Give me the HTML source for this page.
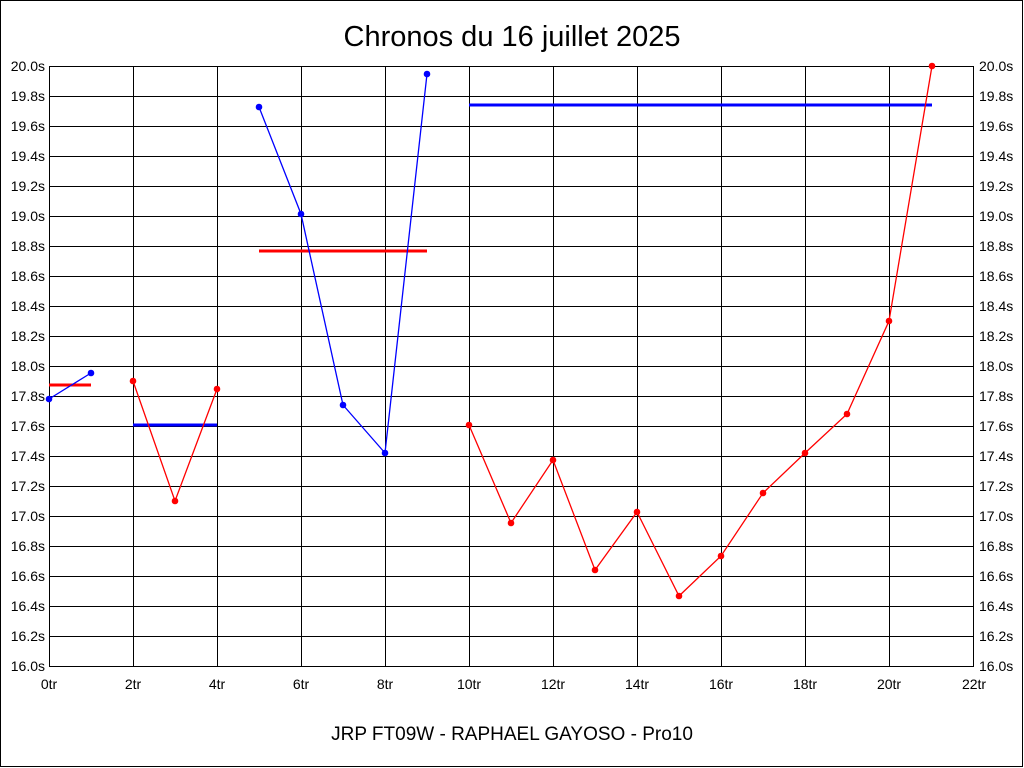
<!DOCTYPE html>
<html><head><meta charset="utf-8"><style>
html,body{margin:0;padding:0;background:#fff}
svg{display:block}
text{font-family:"Liberation Sans",Arial,sans-serif}
</style></head><body>
<svg width="1024" height="768" xmlns="http://www.w3.org/2000/svg">
<rect x="0.5" y="0.5" width="1022" height="766" fill="#fff" stroke="#000"/>
<text x="512" y="46" font-size="29" text-anchor="middle">Chronos du 16 juillet 2025</text>
<text x="512" y="740" font-size="19" text-anchor="middle">JRP FT09W - RAPHAEL GAYOSO - Pro10</text>
<g stroke="#000" stroke-width="1">
<line x1="49" y1="66.5" x2="974" y2="66.5"/><line x1="49" y1="96.5" x2="974" y2="96.5"/><line x1="49" y1="126.5" x2="974" y2="126.5"/><line x1="49" y1="156.5" x2="974" y2="156.5"/><line x1="49" y1="186.5" x2="974" y2="186.5"/><line x1="49" y1="216.5" x2="974" y2="216.5"/><line x1="49" y1="246.5" x2="974" y2="246.5"/><line x1="49" y1="276.5" x2="974" y2="276.5"/><line x1="49" y1="306.5" x2="974" y2="306.5"/><line x1="49" y1="336.5" x2="974" y2="336.5"/><line x1="49" y1="366.5" x2="974" y2="366.5"/><line x1="49" y1="396.5" x2="974" y2="396.5"/><line x1="49" y1="426.5" x2="974" y2="426.5"/><line x1="49" y1="456.5" x2="974" y2="456.5"/><line x1="49" y1="486.5" x2="974" y2="486.5"/><line x1="49" y1="516.5" x2="974" y2="516.5"/><line x1="49" y1="546.5" x2="974" y2="546.5"/><line x1="49" y1="576.5" x2="974" y2="576.5"/><line x1="49" y1="606.5" x2="974" y2="606.5"/><line x1="49" y1="636.5" x2="974" y2="636.5"/><line x1="49" y1="666.5" x2="974" y2="666.5"/>
<line x1="49.5" y1="66" x2="49.5" y2="667"/><line x1="133.5" y1="66" x2="133.5" y2="667"/><line x1="217.5" y1="66" x2="217.5" y2="667"/><line x1="301.5" y1="66" x2="301.5" y2="667"/><line x1="385.5" y1="66" x2="385.5" y2="667"/><line x1="469.5" y1="66" x2="469.5" y2="667"/><line x1="553.5" y1="66" x2="553.5" y2="667"/><line x1="637.5" y1="66" x2="637.5" y2="667"/><line x1="721.5" y1="66" x2="721.5" y2="667"/><line x1="805.5" y1="66" x2="805.5" y2="667"/><line x1="889.5" y1="66" x2="889.5" y2="667"/><line x1="973.5" y1="66" x2="973.5" y2="667"/>
</g>
<g font-size="14" text-anchor="end">
<text x="45" y="71">20.0s</text><text x="45" y="101">19.8s</text><text x="45" y="131">19.6s</text><text x="45" y="161">19.4s</text><text x="45" y="191">19.2s</text><text x="45" y="221">19.0s</text><text x="45" y="251">18.8s</text><text x="45" y="281">18.6s</text><text x="45" y="311">18.4s</text><text x="45" y="341">18.2s</text><text x="45" y="371">18.0s</text><text x="45" y="401">17.8s</text><text x="45" y="431">17.6s</text><text x="45" y="461">17.4s</text><text x="45" y="491">17.2s</text><text x="45" y="521">17.0s</text><text x="45" y="551">16.8s</text><text x="45" y="581">16.6s</text><text x="45" y="611">16.4s</text><text x="45" y="641">16.2s</text><text x="45" y="671">16.0s</text>
</g>
<g font-size="14" text-anchor="start">
<text x="979" y="71">20.0s</text><text x="979" y="101">19.8s</text><text x="979" y="131">19.6s</text><text x="979" y="161">19.4s</text><text x="979" y="191">19.2s</text><text x="979" y="221">19.0s</text><text x="979" y="251">18.8s</text><text x="979" y="281">18.6s</text><text x="979" y="311">18.4s</text><text x="979" y="341">18.2s</text><text x="979" y="371">18.0s</text><text x="979" y="401">17.8s</text><text x="979" y="431">17.6s</text><text x="979" y="461">17.4s</text><text x="979" y="491">17.2s</text><text x="979" y="521">17.0s</text><text x="979" y="551">16.8s</text><text x="979" y="581">16.6s</text><text x="979" y="611">16.4s</text><text x="979" y="641">16.2s</text><text x="979" y="671">16.0s</text>
</g>
<g font-size="14" text-anchor="middle">
<text x="49" y="689">0tr</text><text x="133" y="689">2tr</text><text x="217" y="689">4tr</text><text x="301" y="689">6tr</text><text x="385" y="689">8tr</text><text x="469" y="689">10tr</text><text x="553" y="689">12tr</text><text x="637" y="689">14tr</text><text x="721" y="689">16tr</text><text x="805" y="689">18tr</text><text x="889" y="689">20tr</text><text x="974" y="689">22tr</text>
</g>
<g stroke-width="3">
<line x1="49" y1="385" x2="91" y2="385" stroke="#f00"/>
<line x1="133" y1="425" x2="217" y2="425" stroke="#00f"/>
<line x1="259" y1="251" x2="427" y2="251" stroke="#f00"/>
<line x1="469" y1="105" x2="932" y2="105" stroke="#00f"/>
</g>
<g fill="none" stroke-width="1.3">
<polyline stroke="#00f" points="49,399 91,373"/>
<polyline stroke="#f00" points="133,381 175,501 217,389"/>
<polyline stroke="#00f" points="259,107 301,214 343,405 385,453 427,74"/>
<polyline stroke="#f00" points="469,425 511,523 553,460 595,570 637,512 679,596 721,556 763,493 805,453 847,414 889,321 932,66"/>
</g>
<g fill="#00f">
<circle cx="49" cy="399" r="3.3"/><circle cx="91" cy="373" r="3.3"/>
<circle cx="259" cy="107" r="3.3"/><circle cx="301" cy="214" r="3.3"/><circle cx="343" cy="405" r="3.3"/><circle cx="385" cy="453" r="3.3"/><circle cx="427" cy="74" r="3.3"/>
</g>
<g fill="#f00">
<circle cx="133" cy="381" r="3.3"/><circle cx="175" cy="501" r="3.3"/><circle cx="217" cy="389" r="3.3"/>
<circle cx="469" cy="425" r="3.3"/><circle cx="511" cy="523" r="3.3"/><circle cx="553" cy="460" r="3.3"/><circle cx="595" cy="570" r="3.3"/><circle cx="637" cy="512" r="3.3"/><circle cx="679" cy="596" r="3.3"/><circle cx="721" cy="556" r="3.3"/><circle cx="763" cy="493" r="3.3"/><circle cx="805" cy="453" r="3.3"/><circle cx="847" cy="414" r="3.3"/><circle cx="889" cy="321" r="3.3"/><circle cx="932" cy="66" r="3.3"/>
</g>
</svg>
</body></html>
